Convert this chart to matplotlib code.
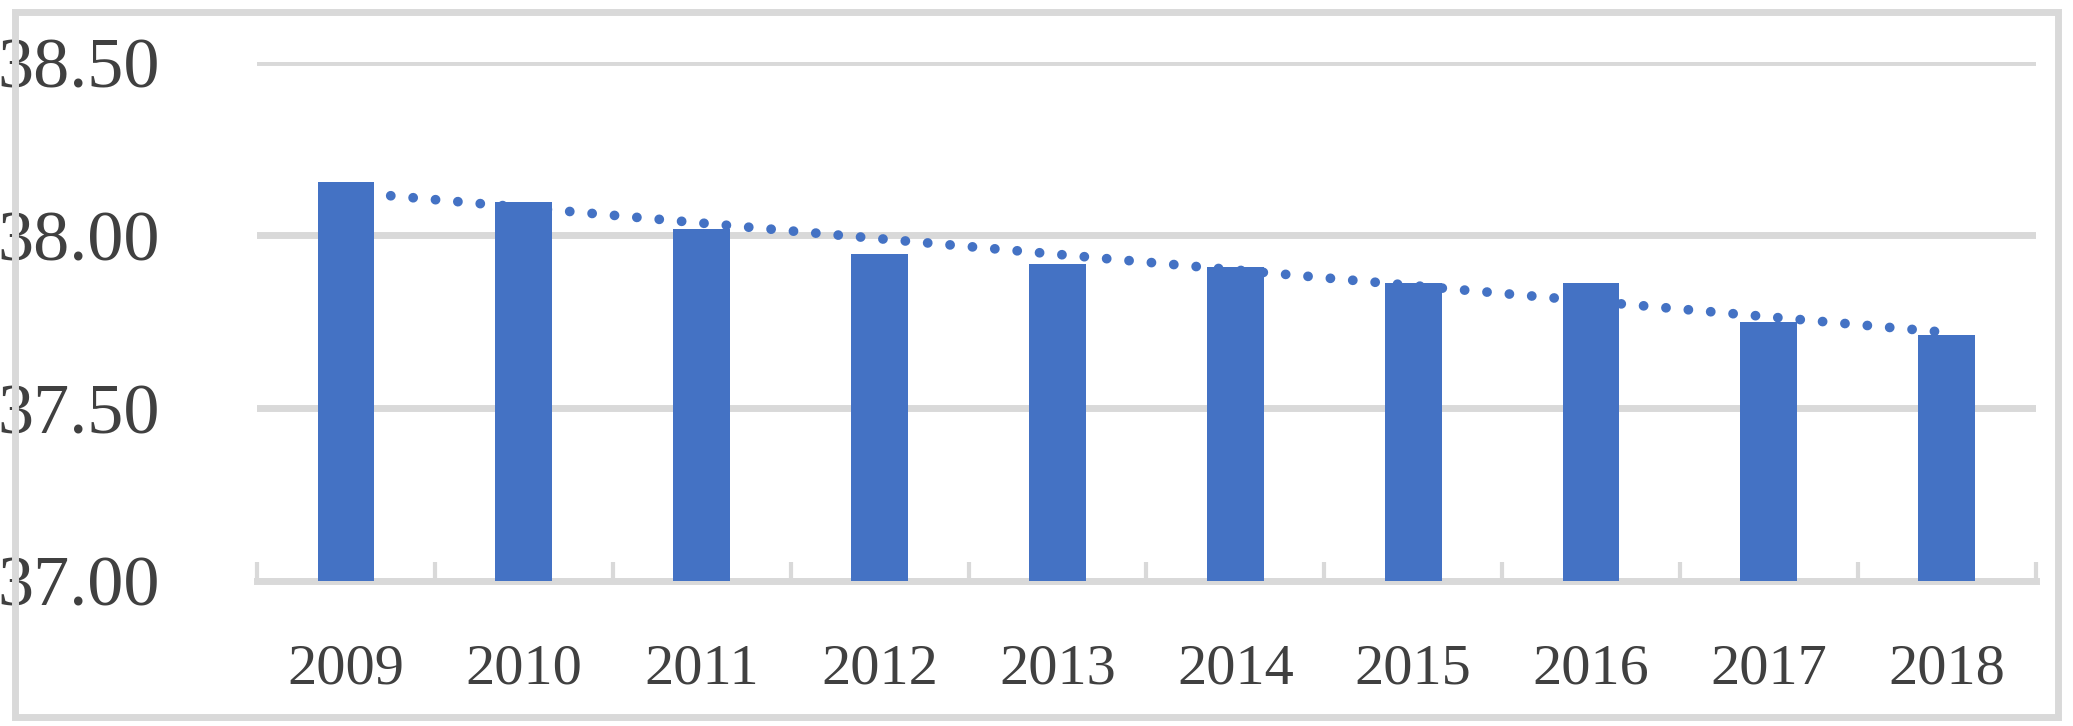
import matplotlib

matplotlib.use("Agg")

import matplotlib.pyplot as plt
import numpy as np
from matplotlib.patches import Rectangle

YEARS = ["2009", "2010", "2011", "2012", "2013", "2014", "2015", "2016", "2017", "2018"]
VALUES = [38.155, 38.095, 38.018, 37.946, 37.916, 37.907, 37.862, 37.862, 37.750, 37.710]
Y_TICKS = [37.00, 37.50, 38.00, 38.50]

BAR_COLOR = "#4472C4"
GRID_COLOR = "#D9D9D9"

plt.rcParams["font.family"] = ["Liberation Serif", "DejaVu Serif"]

fig = plt.figure(figsize=(20.73, 7.26), dpi=100)
# the reference has a gray frame around the whole chart
fig.patches.append(Rectangle((0.007, 0.012), 0.986, 0.972, transform=fig.transFigure,
                             fill=False, edgecolor=GRID_COLOR, linewidth=5))
ax = fig.add_axes([0.124, 0.20, 0.858, 0.714])

x = np.arange(len(YEARS))
ax.bar(x, np.array(VALUES) - 37.0, bottom=37.0, width=0.32, color=BAR_COLOR, zorder=3)

coef = np.polyfit(x, VALUES, 1)
ax.plot(x, np.polyval(coef, x), linestyle=(0, (0.01, 2.3)), linewidth=7,
        color=BAR_COLOR, dash_capstyle="round", zorder=4)

ax.set_xlim(-0.5, len(YEARS) - 0.5)
ax.set_ylim(37.0, 38.5)
ax.set_yticks(Y_TICKS)
ax.set_yticklabels([f"{v:.2f}" for v in Y_TICKS], fontsize=52, color="#404040")
ax.yaxis.grid(True, color=GRID_COLOR, linewidth=5, zorder=0)
ax.tick_params(axis="y", length=0, pad=70)
ax.set_xticks(x)
ax.set_xticklabels(YEARS, fontsize=42, color="#404040")
ax.tick_params(axis="x", length=0, pad=45)
ax.set_xticks(np.arange(-0.5, len(YEARS)), minor=True)
ax.tick_params(axis="x", which="minor", direction="in", length=14, width=3, color=GRID_COLOR)

for side in ["top", "right", "left"]:
    ax.spines[side].set_visible(False)
ax.spines["bottom"].set_color(GRID_COLOR)
ax.spines["bottom"].set_linewidth(5)

fig.savefig("out.png", dpi=100)
